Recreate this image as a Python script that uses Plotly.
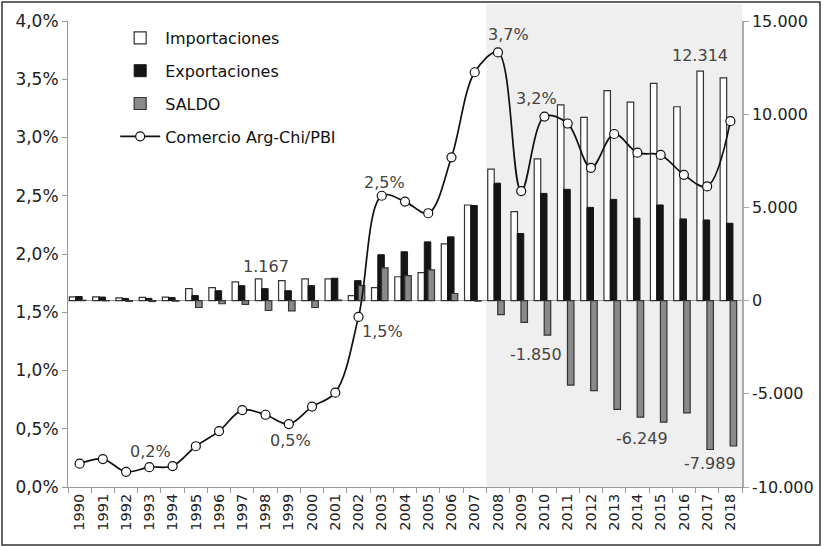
import plotly.graph_objects as go

years = [str(y) for y in range(1990, 2019)]
importaciones = [200, 200, 150, 170, 190, 640, 700, 1000, 1167, 1070, 1170, 1170, 270, 700, 1280,
                 1500, 3040, 5130, 7050, 4770, 7600, 10500, 9830, 11270, 10650, 11650, 10400, 12314, 11950]
exportaciones = [220, 190, 110, 120, 160, 270, 530, 800, 640, 530, 800, 1200, 1070, 2460, 2620,
                 3150, 3420, 5100, 6300, 3600, 5750, 5970, 5000, 5430, 4420, 5130, 4380, 4325, 4150]
saldo = [20, -10, -40, -50, -30, -370, -170, -200, -530, -550, -370, 30, 800, 1760, 1340,
         1650, 380, -30, -750, -1170, -1850, -4530, -4830, -5840, -6249, -6520, -6020, -7989, -7800]
comercio_pbi = [0.20, 0.24, 0.13, 0.17, 0.18, 0.35, 0.48, 0.66, 0.62, 0.54, 0.69, 0.81, 1.46, 2.50, 2.45,
                2.35, 2.83, 3.56, 3.73, 2.54, 3.18, 3.12, 2.74, 3.03, 2.87, 2.85, 2.68, 2.58, 3.14]

left_tickvals = [0.0, 0.005, 0.01, 0.015, 0.02, 0.025, 0.03, 0.035, 0.04]
right_tickvals = [-10000, -5000, 0, 5000, 10000, 15000]
right_ticktext = ["-10.000", "-5.000", "0", "5.000", "10.000", "15.000"]

pct_label_years = ["1993", "1999", "2002", "2003", "2008", "2010"]
imp_label_years = ["1998", "2017"]
saldo_label_years = ["2010", "2014", "2017"]

# label offsets in pixels (styling only)
pct_shift = {"1993": (1, 16), "1999": (2, -16), "2002": (24, -15), "2003": (3, 13),
             "2008": (11, 18), "2010": (-8, 18)}
imp_shift = {"1998": (0, 12), "2017": (-7, 16)}
saldo_shift = {"2010": (-8, -19), "2014": (5, -21), "2017": (3, -14)}

FONT = "DejaVu Sans, Verdana, sans-serif"
LBL = dict(family=FONT, size=16, color="#444")

fig = go.Figure()
fig.add_trace(go.Bar(x=years, y=importaciones, name="Importaciones", legendgroup="a",
                     width=0.28, offset=-0.44,
                     marker=dict(color="white", line=dict(color="#333", width=1.2)), yaxis="y"))
fig.add_trace(go.Bar(x=years, y=exportaciones, name="Exportaciones", legendgroup="b",
                     width=0.28, offset=-0.17,
                     marker=dict(color="#151515", line=dict(color="#151515", width=1)), yaxis="y"))
fig.add_trace(go.Bar(x=years, y=saldo, name="SALDO", legendgroup="c",
                     width=0.28, offset=-0.01,
                     marker=dict(color="#8a8a8a", line=dict(color="#333", width=1.2)), yaxis="y"))
fig.add_trace(go.Scatter(x=years, y=[v / 100 for v in comercio_pbi], name="Comercio Arg-Chi/PBI",
                         legendgroup="d", mode="lines+markers",
                         line=dict(color="#111", width=1.7, shape="spline", smoothing=1),
                         marker=dict(symbol="circle", size=9, color="white", line=dict(color="#111", width=1.2)),
                         yaxis="y2"))

def fmt_thousands(v):
    s = f"{abs(v):,}".replace(",", ".")
    return ("-" if v < 0 else "") + s

annotations = []
for yr in pct_label_years:
    i = years.index(yr)
    v = comercio_pbi[i]
    dx, dy = pct_shift[yr]
    annotations.append(dict(x=i, y=v / 100, xref="x", yref="y2", text=f"{v:.1f}".replace(".", ",") + "%",
                            showarrow=False, xshift=dx, yshift=dy, font=LBL))
for yr in imp_label_years:
    i = years.index(yr)
    v = importaciones[i]
    dx, dy = imp_shift[yr]
    annotations.append(dict(x=i, y=v, xref="x", yref="y", text=fmt_thousands(v), showarrow=False,
                            xshift=dx, yshift=dy, font=LBL))
for yr in saldo_label_years:
    i = years.index(yr)
    v = saldo[i]
    dx, dy = saldo_shift[yr]
    annotations.append(dict(x=i, y=v, xref="x", yref="y", text=fmt_thousands(v), showarrow=False,
                            xshift=dx, yshift=dy, font=LBL))

fig.update_layout(
    width=825, height=546,
    margin=dict(l=68, r=83, t=21, b=59, autoexpand=False),
    paper_bgcolor="white", plot_bgcolor="white",
    separators=",.",
    barmode="overlay",
    font=dict(family=FONT, size=14, color="#222"),
    showlegend=True,
    legend=dict(x=0.07, y=1.0, xanchor="left", yanchor="top", bgcolor="rgba(0,0,0,0)",
                font=dict(family=FONT, size=16, color="#111"), tracegroupgap=9, itemwidth=40),
    xaxis=dict(type="category", range=[-0.5, 28.5], tickangle=-90, showline=True, linecolor="#999",
               linewidth=1, ticks="outside", tickson="boundaries", ticklen=5, tickcolor="#999",
               showgrid=False, automargin=False, tickfont=dict(family=FONT, size=14.5, color="#222")),
    yaxis=dict(side="right", range=[-10000, 15000], tickvals=right_tickvals, ticktext=right_ticktext,
               showline=True, linecolor="#aaa", linewidth=1.5, ticks="outside", ticklen=5, tickcolor="#aaa",
               showgrid=False, zeroline=True, zerolinecolor="#999", zerolinewidth=1, automargin=False,
               tickfont=dict(family=FONT, size=16, color="#222")),
    yaxis2=dict(side="left", overlaying="y", range=[0, 0.04], tickvals=left_tickvals, tickformat=".1%",
                showline=True, linecolor="#999", linewidth=1, ticks="outside", ticklen=5, tickcolor="#999",
                showgrid=False, zeroline=False, automargin=False,
                tickfont=dict(family=FONT, size=17, color="#222")),
    annotations=annotations,
    shapes=[
        dict(type="rect", xref="x", yref="paper", x0=17.5, x1=28.5, y0=0, y1=1.036,
             fillcolor="#efefef", line=dict(width=0), layer="below"),
        dict(type="rect", xref="paper", yref="paper", x0=-0.0979, x1=1.1157, y0=-0.1245, y1=1.0408,
             fillcolor="rgba(0,0,0,0)", line=dict(color="#333", width=1.5), layer="above"),
    ],
)

fig.write_html("out.html", config={"displayModeBar": False},
               post_script="document.body.style.margin='0px';")
